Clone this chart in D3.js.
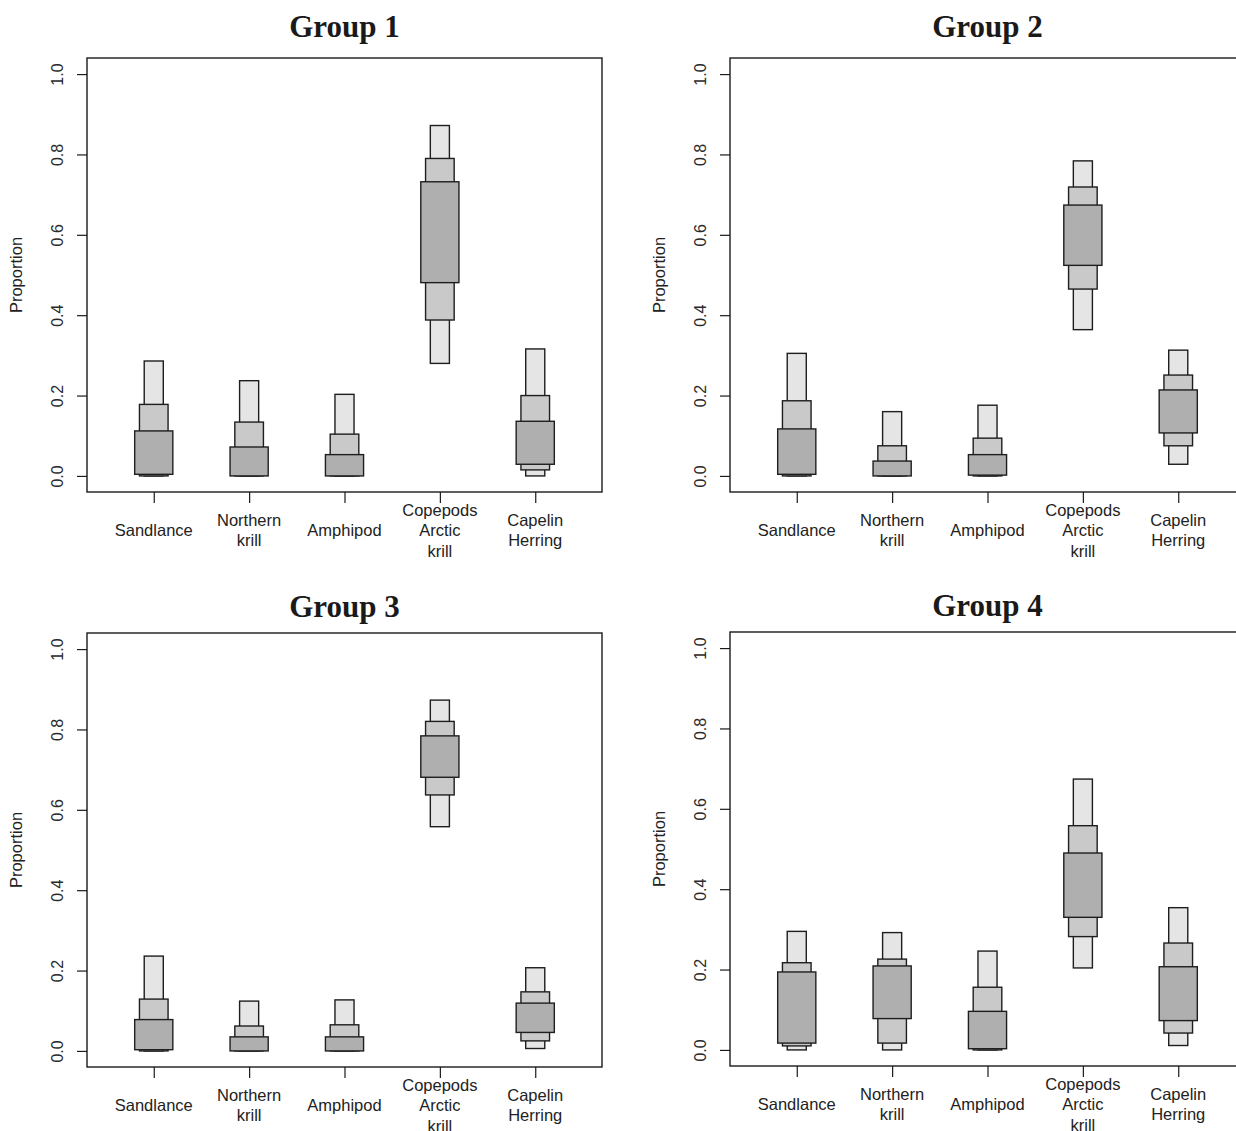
<!DOCTYPE html>
<html>
<head>
<meta charset="utf-8">
<script src="https://cdn.jsdelivr.net/npm/d3@7"></script>
<style>
  html, body { margin: 0; padding: 0; background: #fff; }
  svg { display: block; }
</style>
</head>
<body>
<div id="chart"></div>
<script>
// Diet proportions: credible intervals per prey source, four predator groups
const categoryLines = [
  ["Sandlance"],
  ["Northern", "krill"],
  ["Amphipod"],
  ["Copepods", "Arctic", "krill"],
  ["Capelin", "Herring"]
];
const groupTitles = ["Group 1", "Group 2", "Group 3", "Group 4"];
const yTicks = [0, 0.2, 0.4, 0.6, 0.8, 1.0];
const yTickLabels = ["0.0", "0.2", "0.4", "0.6", "0.8", "1.0"];

// [low, high] for the 95%, 75% and 50% intervals
const g1Interval95 = [[0.000, 0.286], [0.000, 0.237], [0.000, 0.203], [0.280, 0.872], [0.000, 0.316]];
const g1Interval75 = [[0.000, 0.178], [0.000, 0.134], [0.000, 0.104], [0.388, 0.790], [0.015, 0.200]];
const g1Interval50 = [[0.004, 0.112], [0.000, 0.072], [0.000, 0.053], [0.481, 0.732], [0.029, 0.136]];

const g2Interval95 = [[0.000, 0.305], [0.000, 0.160], [0.000, 0.176], [0.364, 0.784], [0.029, 0.313]];
const g2Interval75 = [[0.000, 0.187], [0.000, 0.075], [0.000, 0.094], [0.465, 0.719], [0.075, 0.251]];
const g2Interval50 = [[0.004, 0.117], [0.000, 0.037], [0.002, 0.053], [0.524, 0.674], [0.107, 0.214]];

const g3Interval95 = [[0.000, 0.236], [0.000, 0.124], [0.000, 0.127], [0.558, 0.873], [0.006, 0.207]];
const g3Interval75 = [[0.000, 0.129], [0.000, 0.062], [0.000, 0.065], [0.637, 0.820], [0.025, 0.147]];
const g3Interval50 = [[0.003, 0.078], [0.000, 0.035], [0.000, 0.035], [0.681, 0.784], [0.046, 0.119]];

const g4Interval95 = [[0.000, 0.295], [0.000, 0.292], [0.000, 0.246], [0.204, 0.674], [0.011, 0.354]];
const g4Interval75 = [[0.010, 0.217], [0.017, 0.226], [0.000, 0.156], [0.282, 0.558], [0.042, 0.266]];
const g4Interval50 = [[0.017, 0.194], [0.078, 0.209], [0.003, 0.096], [0.330, 0.490], [0.073, 0.207]];

const groups = [
  [g1Interval95, g1Interval75, g1Interval50],
  [g2Interval95, g2Interval75, g2Interval50],
  [g3Interval95, g3Interval75, g3Interval50],
  [g4Interval95, g4Interval75, g4Interval50]
];

// interval styling: outer 95% is narrowest and lightest, 50% widest and darkest
const levelFill = ["#e5e5e5", "#c9c9c9", "#afafaf"];
const levelWidth = [0.2, 0.3, 0.4];   // in category units

const W = 1236, H = 1131;
const svg = d3.select("#chart").append("svg")
  .attr("width", W).attr("height", H)
  .attr("viewBox", `0 0 ${W} ${H}`);

const plotW = 515, plotH = 434;
const origins = [[87, 58], [730, 58], [87, 633], [730, 632]];
const titleOffsets = [-21, -21, -16, -16];

const sansFont = "'Liberation Sans', Arial, sans-serif";
const serifFont = "'Liberation Serif', 'Times New Roman', serif";

groups.forEach((levels, gi) => {
  const [ox, oy] = origins[gi];
  const g = svg.append("g").attr("transform", `translate(${ox},${oy})`);

  const x = d3.scaleLinear().domain([0.3, 5.7]).range([0, plotW]);
  const y = d3.scaleLinear().domain([-0.04, 1.04]).range([plotH, 0]);

  // intervals
  levels.forEach((intervals, li) => {
    g.selectAll(null)
      .data(intervals)
      .join("rect")
      .attr("x", (d, i) => x(i + 1 - levelWidth[li] / 2))
      .attr("width", x(levelWidth[li]) - x(0))
      .attr("y", d => y(d[1]))
      .attr("height", d => y(d[0]) - y(d[1]))
      .attr("fill", levelFill[li])
      .attr("stroke", "#1e1e1e")
      .attr("stroke-width", 1.4);
  });

  // frame
  g.append("rect")
    .attr("x", 0).attr("y", 0)
    .attr("width", plotW).attr("height", plotH)
    .attr("fill", "none")
    .attr("stroke", "#1a1a1a")
    .attr("stroke-width", 1.4);

  // y axis
  const yAxis = d3.axisLeft(y)
    .tickValues(yTicks)
    .tickSize(10)
    .tickFormat((d, i) => yTickLabels[i]);
  const ya = g.append("g").call(yAxis);
  ya.select(".domain").remove();
  ya.selectAll(".tick line").attr("stroke", "#1a1a1a").attr("stroke-width", 1.2);
  ya.selectAll(".tick text")
    .attr("x", null).attr("dy", null)
    .attr("transform", "translate(-30,0) rotate(-90)")
    .attr("text-anchor", "middle")
    .attr("dominant-baseline", "central")
    .attr("fill", "#2a2a2a")
    .style("font-family", sansFont)
    .style("font-size", "16px");

  // x axis
  const xAxis = d3.axisBottom(x)
    .tickValues([1, 2, 3, 4, 5])
    .tickSize(11)
    .tickFormat("");
  const xa = g.append("g").attr("transform", `translate(0,${plotH})`).call(xAxis);
  xa.select(".domain").remove();
  xa.selectAll(".tick line").attr("stroke", "#1a1a1a").attr("stroke-width", 1.2);

  // multi-line category labels, vertically centred
  const lineH = 20.5;
  categoryLines.forEach((lines, i) => {
    const t = g.append("text")
      .attr("x", x(i + 1))
      .attr("y", plotH + 38)
      .attr("text-anchor", "middle")
      .attr("fill", "#222")
      .style("font-family", sansFont)
      .style("font-size", "16.5px");
    lines.forEach((s, k) => {
      t.append("tspan")
        .attr("x", x(i + 1))
        .attr("y", plotH + 38 + (k - (lines.length - 1) / 2) * lineH)
        .attr("dominant-baseline", "central")
        .text(s);
    });
  });

  // axis title
  g.append("text")
    .attr("transform", `translate(-71,${plotH / 2}) rotate(-90)`)
    .attr("text-anchor", "middle")
    .attr("dominant-baseline", "central")
    .attr("fill", "#222")
    .style("font-family", sansFont)
    .style("font-size", "16.5px")
    .text("Proportion");

  // panel title
  g.append("text")
    .attr("x", plotW / 2)
    .attr("y", titleOffsets[gi])
    .attr("text-anchor", "middle")
    .attr("fill", "#1a1a1a")
    .style("font-family", serifFont)
    .style("font-weight", "bold")
    .style("font-size", "31px")
    .text(groupTitles[gi]);
});
</script>
</body>
</html>
